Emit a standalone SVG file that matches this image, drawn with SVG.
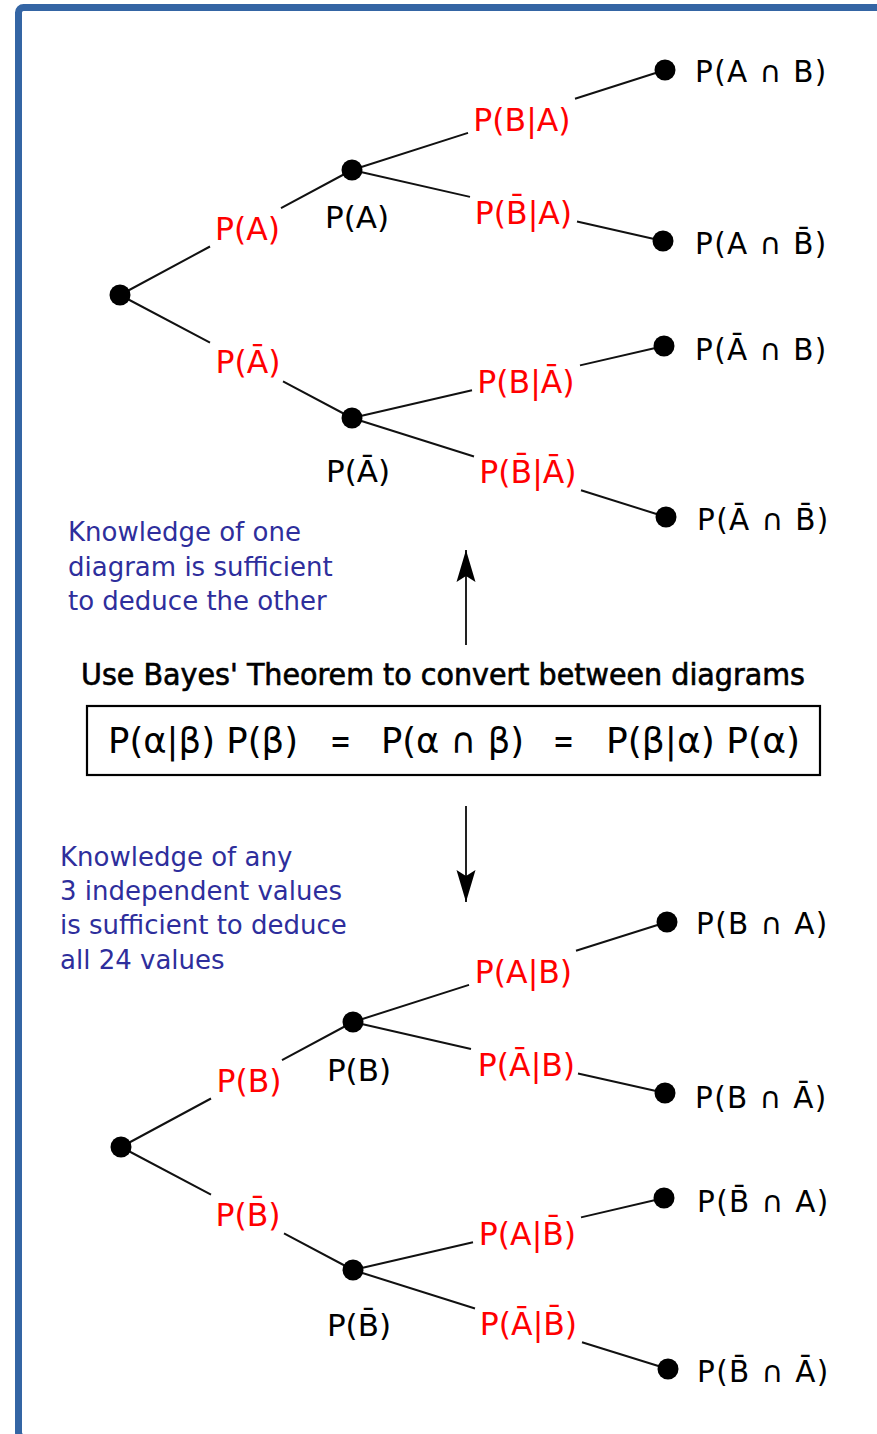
<svg xmlns="http://www.w3.org/2000/svg" width="877" height="1434" viewBox="0 0 877 1434">
  <style>
    .edge { stroke: #111; stroke-width: 2; fill: none; }
    .dot { fill: #000; }
    .prob { font-family: "DejaVu Sans", "Liberation Sans", sans-serif; font-size: 31.5px; fill: #ff0000; text-anchor: middle; }
    .node { font-family: "DejaVu Sans", "Liberation Sans", sans-serif; font-size: 31px; fill: #000; text-anchor: middle; }
    .leaf { font-family: "DejaVu Sans", "Liberation Sans", sans-serif; font-size: 29.5px; fill: #000; letter-spacing: 1.4px; }
    .note { font-family: "DejaVu Sans", "Liberation Sans", sans-serif; font-size: 26px; fill: #2e2e9c; }
    .title { font-family: "DejaVu Sans Condensed", "DejaVu Sans", sans-serif; font-stretch: condensed; font-size: 30.5px; fill: #000; stroke: #000; stroke-width: 0.6px; }
    .eq { font-family: "DejaVu Sans Condensed", "DejaVu Sans", sans-serif; font-stretch: condensed; font-size: 35.5px; fill: #000; }
    .arrow { stroke: #222; stroke-width: 2; fill: none; marker-end: url(#head); }
  </style>
  <defs>
    <marker id="head" markerUnits="userSpaceOnUse" markerWidth="34" markerHeight="24" viewBox="-32 -12 34 24" refX="0" refY="0" orient="auto">
      <path d="M0,0 L-32,-9.5 L-26,0 L-32,9.5 Z" fill="#000"/>
    </marker>
  </defs>

  <!-- page frame -->
  <rect x="18.5" y="7.5" width="880" height="1430" rx="5" fill="#ffffff" stroke="#3465a4" stroke-width="7"/>

  <!-- tree connectors (broken where the probability labels sit) -->
  <g id="connectors">
    <!-- upper tree -->
    <path class="edge" d="M120,295 L210,246.5 M281,208.2 L352,170"/>
    <path class="edge" d="M120,295 L210,342.7 M283,381.4 L352,418"/>
    <path class="edge" d="M352,170 L468,132.9 M575,98.8 L665,70"/>
    <path class="edge" d="M352,170 L470,196.9 M577,221.4 L663,241"/>
    <path class="edge" d="M352,418 L472,390.3 M580,365.4 L664,346"/>
    <path class="edge" d="M352,418 L474,456.5 M581,490.2 L666,517"/>
    <!-- lower tree -->
    <path class="edge" d="M121,1147 L211,1098.5 M282,1060.2 L353,1022"/>
    <path class="edge" d="M121,1147 L211,1194.7 M284,1233.4 L353,1270"/>
    <path class="edge" d="M353,1022 L469,984.9 M576,950.8 L667,922"/>
    <path class="edge" d="M353,1022 L471,1048.9 M578,1073.4 L665,1093"/>
    <path class="edge" d="M353,1270 L473,1242.3 M581,1217.4 L664,1198"/>
    <path class="edge" d="M353,1270 L475,1308.5 M582,1342.2 L668,1369"/>
    <!-- conversion arrows -->
    <path class="arrow" d="M466,645 L466,550"/>
    <path class="arrow" d="M466,806 L466,902"/>
  </g>

  <!-- upper tree: A first, then B -->
  <g id="root-A">
    <circle class="dot" cx="120" cy="295" r="10.5"/>
  </g>
  <g id="node-A">
    <circle class="dot" cx="352" cy="170" r="10.5"/>
    <text class="prob" x="247.5" y="240">P(A)</text>
    <text class="node" x="357" y="228">P(A)</text>
  </g>
  <g id="node-notA">
    <circle class="dot" cx="352" cy="418" r="10.5"/>
    <text class="prob" x="248" y="373">P(Ā)</text>
    <text class="node" x="358" y="482">P(Ā)</text>
  </g>
  <g id="leaf-A-B">
    <circle class="dot" cx="665" cy="70" r="10.5"/>
    <text class="prob" x="522" y="131">P(B|A)</text>
    <text class="leaf" x="695" y="82">P(A ∩ B)</text>
  </g>
  <g id="leaf-A-notB">
    <circle class="dot" cx="663" cy="241" r="10.5"/>
    <text class="prob" x="523.5" y="224">P(B̄|A)</text>
    <text class="leaf" x="695" y="254">P(A ∩ B̄)</text>
  </g>
  <g id="leaf-notA-B">
    <circle class="dot" cx="664" cy="346" r="10.5"/>
    <text class="prob" x="526" y="393">P(B|Ā)</text>
    <text class="leaf" x="695" y="360">P(Ā ∩ B)</text>
  </g>
  <g id="leaf-notA-notB">
    <circle class="dot" cx="666" cy="517" r="10.5"/>
    <text class="prob" x="528" y="483">P(B̄|Ā)</text>
    <text class="leaf" x="697" y="530">P(Ā ∩ B̄)</text>
  </g>

  <!-- notes and Bayes' theorem -->
  <g id="note-one">
    <text class="note" x="68" y="541">Knowledge of one</text>
    <text class="note" x="68" y="576">diagram is sufficient</text>
    <text class="note" x="68" y="610">to deduce the other</text>
  </g>
  <g id="bayes">
    <text class="title" x="81" y="685" textLength="724" lengthAdjust="spacingAndGlyphs">Use Bayes' Theorem to convert between diagrams</text>
    <rect x="87" y="706" width="733" height="69" fill="none" stroke="#000" stroke-width="2.2"/>
    <text class="eq" y="753">
      <tspan x="108" textLength="190" lengthAdjust="spacingAndGlyphs">P(α|β) P(β)</tspan>
      <tspan x="330" textLength="21" lengthAdjust="spacingAndGlyphs">=</tspan>
      <tspan x="381" textLength="143" lengthAdjust="spacingAndGlyphs">P(α ∩ β)</tspan>
      <tspan x="553" textLength="21" lengthAdjust="spacingAndGlyphs">=</tspan>
      <tspan x="606" textLength="194" lengthAdjust="spacingAndGlyphs">P(β|α) P(α)</tspan>
    </text>
  </g>
  <g id="note-any">
    <text class="note" x="60" y="866">Knowledge of any</text>
    <text class="note" x="60" y="900">3 independent values</text>
    <text class="note" x="60" y="934">is sufficient to deduce</text>
    <text class="note" x="60" y="969">all 24 values</text>
  </g>

  <!-- lower tree: B first, then A -->
  <g id="root-B">
    <circle class="dot" cx="121" cy="1147" r="10.5"/>
  </g>
  <g id="node-B">
    <circle class="dot" cx="353" cy="1022" r="10.5"/>
    <text class="prob" x="249" y="1092">P(B)</text>
    <text class="node" x="359" y="1081">P(B)</text>
  </g>
  <g id="node-notB">
    <circle class="dot" cx="353" cy="1270" r="10.5"/>
    <text class="prob" x="248" y="1226">P(B̄)</text>
    <text class="node" x="359" y="1336">P(B̄)</text>
  </g>
  <g id="leaf-B-A">
    <circle class="dot" cx="667" cy="922" r="10.5"/>
    <text class="prob" x="523.5" y="983">P(A|B)</text>
    <text class="leaf" x="696" y="934">P(B ∩ A)</text>
  </g>
  <g id="leaf-B-notA">
    <circle class="dot" cx="665" cy="1093" r="10.5"/>
    <text class="prob" x="526.5" y="1076">P(Ā|B)</text>
    <text class="leaf" x="695" y="1108">P(B ∩ Ā)</text>
  </g>
  <g id="leaf-notB-A">
    <circle class="dot" cx="664" cy="1198" r="10.5"/>
    <text class="prob" x="527.5" y="1245">P(A|B̄)</text>
    <text class="leaf" x="697" y="1212">P(B̄ ∩ A)</text>
  </g>
  <g id="leaf-notB-notA">
    <circle class="dot" cx="668" cy="1369" r="10.5"/>
    <text class="prob" x="528.5" y="1335">P(Ā|B̄)</text>
    <text class="leaf" x="697" y="1382">P(B̄ ∩ Ā)</text>
  </g>
</svg>
